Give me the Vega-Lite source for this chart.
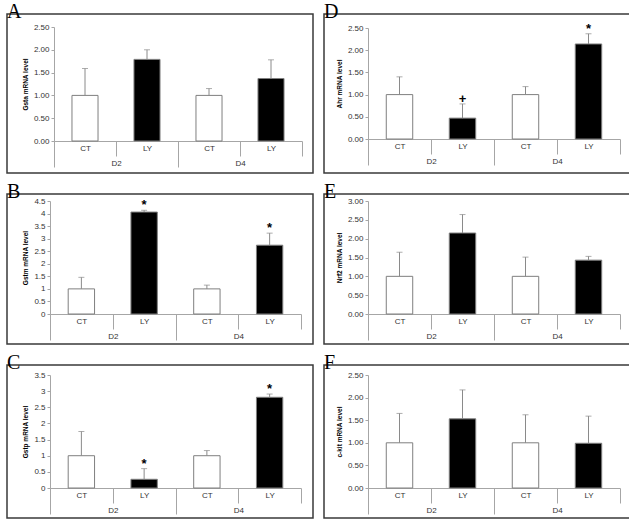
{
  "$schema": "https://vega.github.io/schema/vega-lite/v6.json",
  "padding": {"left": 6, "top": 1, "right": 0, "bottom": 0},
  "datasets": {
    "bars": [
      {"panel": "A", "day": "D2", "cond": "CT", "key": "D2 CT", "mean": 1.00, "hi": 1.59, "sig": ""},
      {"panel": "A", "day": "D2", "cond": "LY", "key": "D2 LY", "mean": 1.79, "hi": 2.00, "sig": ""},
      {"panel": "A", "day": "D4", "cond": "CT", "key": "D4 CT", "mean": 1.00, "hi": 1.15, "sig": ""},
      {"panel": "A", "day": "D4", "cond": "LY", "key": "D4 LY", "mean": 1.37, "hi": 1.78, "sig": ""},
      {"panel": "D", "day": "D2", "cond": "CT", "key": "D2 CT", "mean": 1.00, "hi": 1.40, "sig": ""},
      {"panel": "D", "day": "D2", "cond": "LY", "key": "D2 LY", "mean": 0.47, "hi": 0.79, "sig": "+"},
      {"panel": "D", "day": "D4", "cond": "CT", "key": "D4 CT", "mean": 1.00, "hi": 1.18, "sig": ""},
      {"panel": "D", "day": "D4", "cond": "LY", "key": "D4 LY", "mean": 2.14, "hi": 2.37, "sig": "*"},
      {"panel": "B", "day": "D2", "cond": "CT", "key": "D2 CT", "mean": 1.00, "hi": 1.46, "sig": ""},
      {"panel": "B", "day": "D2", "cond": "LY", "key": "D2 LY", "mean": 4.06, "hi": 4.13, "sig": "*"},
      {"panel": "B", "day": "D4", "cond": "CT", "key": "D4 CT", "mean": 1.00, "hi": 1.15, "sig": ""},
      {"panel": "B", "day": "D4", "cond": "LY", "key": "D4 LY", "mean": 2.74, "hi": 3.22, "sig": "*"},
      {"panel": "E", "day": "D2", "cond": "CT", "key": "D2 CT", "mean": 1.00, "hi": 1.64, "sig": ""},
      {"panel": "E", "day": "D2", "cond": "LY", "key": "D2 LY", "mean": 2.15, "hi": 2.64, "sig": ""},
      {"panel": "E", "day": "D4", "cond": "CT", "key": "D4 CT", "mean": 1.00, "hi": 1.51, "sig": ""},
      {"panel": "E", "day": "D4", "cond": "LY", "key": "D4 LY", "mean": 1.43, "hi": 1.53, "sig": ""},
      {"panel": "C", "day": "D2", "cond": "CT", "key": "D2 CT", "mean": 1.00, "hi": 1.75, "sig": ""},
      {"panel": "C", "day": "D2", "cond": "LY", "key": "D2 LY", "mean": 0.27, "hi": 0.60, "sig": "*"},
      {"panel": "C", "day": "D4", "cond": "CT", "key": "D4 CT", "mean": 1.00, "hi": 1.16, "sig": ""},
      {"panel": "C", "day": "D4", "cond": "LY", "key": "D4 LY", "mean": 2.81, "hi": 2.91, "sig": "*"},
      {"panel": "F", "day": "D2", "cond": "CT", "key": "D2 CT", "mean": 1.00, "hi": 1.65, "sig": ""},
      {"panel": "F", "day": "D2", "cond": "LY", "key": "D2 LY", "mean": 1.53, "hi": 2.17, "sig": ""},
      {"panel": "F", "day": "D4", "cond": "CT", "key": "D4 CT", "mean": 1.00, "hi": 1.62, "sig": ""},
      {"panel": "F", "day": "D4", "cond": "LY", "key": "D4 LY", "mean": 0.99, "hi": 1.59, "sig": ""}
    ]
  },
  "data": {"name": "bars"},
  "config": {
    "view": {"stroke": "#3a3a3a", "strokeWidth": 1.5},
    "axis": {"grid": false, "labelFont": "Liberation Sans", "labelFontSize": 8, "labelColor": "#333333", "labelOverlap": false, "domainColor": "#a6a6a6", "tickColor": "#a6a6a6", "titleFont": "Liberation Sans", "titleFontSize": 6.5, "titleFontWeight": "bold", "titleColor": "#000000"},
    "title": {"font": "Liberation Serif", "fontSize": 20, "fontWeight": "normal", "color": "#000000", "anchor": "start", "offset": -8, "frame": "group"}
  },
  "columns": 2,
  "spacing": {"row": 7, "column": 9},
  "concat": [
    {
      "width": 306, "height": 159, "title": {"text": "A"},
      "transform": [{"filter": "datum.panel == 'A'"}],
      "layer": [
        {"layer": [
          {"mark": {"type": "bar", "width": {"band": 0.42}, "stroke": "#7f7f7f", "strokeWidth": 1},
           "encoding": {
             "x": {"field": "key", "type": "nominal", "scale": {"range": [47, 295], "paddingInner": 0, "paddingOuter": 0},
                   "axis": {"title": null, "orient": "bottom", "offset": -32, "tickBand": "extent", "tickSize": 15, "labelPadding": -12, "labelAngle": 0, "labelExpr": "split(datum.value, ' ')[1]"}},
             "y": {"field": "mean", "type": "quantitative", "scale": {"domain": [0, 2.5], "range": [127, 13], "nice": false},
                   "axis": {"title": "Gsta mRNA level", "values": [0, 0.5, 1, 1.5, 2, 2.5], "format": ".2f", "offset": -47, "tickSize": 3, "labelPadding": 2, "titlePadding": 5}},
             "fill": {"field": "cond", "type": "nominal", "scale": {"domain": ["CT", "LY"], "range": ["#ffffff", "#000000"]}, "legend": null}
           }},
          {"mark": {"type": "rule", "color": "#8a8a8a"}, "encoding": {"x": {"field": "key", "type": "nominal"}, "y": {"field": "mean", "type": "quantitative", "axis": {"title": "Gsta mRNA level", "values": [0, 0.5, 1, 1.5, 2, 2.5], "format": ".2f", "offset": -47, "tickSize": 3, "labelPadding": 2, "titlePadding": 5}}, "y2": {"field": "hi"}}},
          {"mark": {"type": "tick", "color": "#8a8a8a", "size": 6, "thickness": 1, "orient": "horizontal"}, "encoding": {"x": {"field": "key", "type": "nominal"}, "y": {"field": "hi", "type": "quantitative", "axis": {"title": "Gsta mRNA level", "values": [0, 0.5, 1, 1.5, 2, 2.5], "format": ".2f", "offset": -47, "tickSize": 3, "labelPadding": 2, "titlePadding": 5}}}},
          {"mark": {"type": "text", "fontSize": 13, "fontWeight": "bold", "font": "Liberation Sans", "dy": -5}, "encoding": {"x": {"field": "key", "type": "nominal"}, "y": {"field": "hi", "type": "quantitative", "axis": {"title": "Gsta mRNA level", "values": [0, 0.5, 1, 1.5, 2, 2.5], "format": ".2f", "offset": -47, "tickSize": 3, "labelPadding": 2, "titlePadding": 5}}, "text": {"field": "sig"}}}
        ]},
        {"mark": {"type": "point", "opacity": 0},
         "encoding": {"x": {"field": "day", "type": "nominal", "scale": {"type": "band", "range": [47, 295], "paddingInner": 0, "paddingOuter": 0},
                            "axis": {"title": null, "orient": "bottom", "offset": -32, "tickSize": 26, "tickOffset": -62, "labelOffset": 62, "labelPadding": -8, "labelAngle": 0, "domain": false}}}}
      ],
      "resolve": {"scale": {"x": "independent"}}
    },
    {
      "width": 306, "height": 159, "title": {"text": "D"},
      "transform": [{"filter": "datum.panel == 'D'"}],
      "layer": [
        {"layer": [
          {"mark": {"type": "bar", "width": {"band": 0.42}, "stroke": "#7f7f7f", "strokeWidth": 1},
           "encoding": {
             "x": {"field": "key", "type": "nominal", "scale": {"range": [44, 296], "paddingInner": 0, "paddingOuter": 0},
                   "axis": {"title": null, "orient": "bottom", "offset": -34, "tickBand": "extent", "tickSize": 15, "labelPadding": -12, "labelAngle": 0, "labelExpr": "split(datum.value, ' ')[1]"}},
             "y": {"field": "mean", "type": "quantitative", "scale": {"domain": [0, 2.5], "range": [125, 14], "nice": false},
                   "axis": {"title": "Ahr mRNA level", "values": [0, 0.5, 1, 1.5, 2, 2.5], "format": ".2f", "offset": -44, "tickSize": 3, "labelPadding": 2, "titlePadding": 5}},
             "fill": {"field": "cond", "type": "nominal", "scale": {"domain": ["CT", "LY"], "range": ["#ffffff", "#000000"]}, "legend": null}
           }},
          {"mark": {"type": "rule", "color": "#8a8a8a"}, "encoding": {"x": {"field": "key", "type": "nominal"}, "y": {"field": "mean", "type": "quantitative", "axis": {"title": "Ahr mRNA level", "values": [0, 0.5, 1, 1.5, 2, 2.5], "format": ".2f", "offset": -44, "tickSize": 3, "labelPadding": 2, "titlePadding": 5}}, "y2": {"field": "hi"}}},
          {"mark": {"type": "tick", "color": "#8a8a8a", "size": 6, "thickness": 1, "orient": "horizontal"}, "encoding": {"x": {"field": "key", "type": "nominal"}, "y": {"field": "hi", "type": "quantitative", "axis": {"title": "Ahr mRNA level", "values": [0, 0.5, 1, 1.5, 2, 2.5], "format": ".2f", "offset": -44, "tickSize": 3, "labelPadding": 2, "titlePadding": 5}}}},
          {"mark": {"type": "text", "fontSize": 13, "fontWeight": "bold", "font": "Liberation Sans", "dy": -5}, "encoding": {"x": {"field": "key", "type": "nominal"}, "y": {"field": "hi", "type": "quantitative", "axis": {"title": "Ahr mRNA level", "values": [0, 0.5, 1, 1.5, 2, 2.5], "format": ".2f", "offset": -44, "tickSize": 3, "labelPadding": 2, "titlePadding": 5}}, "text": {"field": "sig"}}}
        ]},
        {"mark": {"type": "point", "opacity": 0},
         "encoding": {"x": {"field": "day", "type": "nominal", "scale": {"type": "band", "range": [44, 296], "paddingInner": 0, "paddingOuter": 0},
                            "axis": {"title": null, "orient": "bottom", "offset": -34, "tickSize": 26, "tickOffset": -63, "labelOffset": 63, "labelPadding": -8, "labelAngle": 0, "domain": false}}}}
      ],
      "resolve": {"scale": {"x": "independent"}}
    },
    {
      "width": 306, "height": 150, "title": {"text": "B"},
      "transform": [{"filter": "datum.panel == 'B'"}],
      "layer": [
        {"layer": [
          {"mark": {"type": "bar", "width": {"band": 0.42}, "stroke": "#7f7f7f", "strokeWidth": 1},
           "encoding": {
             "x": {"field": "key", "type": "nominal", "scale": {"range": [43, 294], "paddingInner": 0, "paddingOuter": 0},
                   "axis": {"title": null, "orient": "bottom", "offset": -30, "tickBand": "extent", "tickSize": 15, "labelPadding": -12, "labelAngle": 0, "labelExpr": "split(datum.value, ' ')[1]"}},
             "y": {"field": "mean", "type": "quantitative", "scale": {"domain": [0, 4.5], "range": [120, 7], "nice": false},
                   "axis": {"title": "Gstm mRNA level", "values": [0, 0.5, 1, 1.5, 2, 2.5, 3, 3.5, 4, 4.5], "format": "~g", "offset": -43, "tickSize": 3, "labelPadding": 2, "titlePadding": 5}},
             "fill": {"field": "cond", "type": "nominal", "scale": {"domain": ["CT", "LY"], "range": ["#ffffff", "#000000"]}, "legend": null}
           }},
          {"mark": {"type": "rule", "color": "#8a8a8a"}, "encoding": {"x": {"field": "key", "type": "nominal"}, "y": {"field": "mean", "type": "quantitative", "axis": {"title": "Gstm mRNA level", "values": [0, 0.5, 1, 1.5, 2, 2.5, 3, 3.5, 4, 4.5], "format": "~g", "offset": -43, "tickSize": 3, "labelPadding": 2, "titlePadding": 5}}, "y2": {"field": "hi"}}},
          {"mark": {"type": "tick", "color": "#8a8a8a", "size": 6, "thickness": 1, "orient": "horizontal"}, "encoding": {"x": {"field": "key", "type": "nominal"}, "y": {"field": "hi", "type": "quantitative", "axis": {"title": "Gstm mRNA level", "values": [0, 0.5, 1, 1.5, 2, 2.5, 3, 3.5, 4, 4.5], "format": "~g", "offset": -43, "tickSize": 3, "labelPadding": 2, "titlePadding": 5}}}},
          {"mark": {"type": "text", "fontSize": 13, "fontWeight": "bold", "font": "Liberation Sans", "dy": -5}, "encoding": {"x": {"field": "key", "type": "nominal"}, "y": {"field": "hi", "type": "quantitative", "axis": {"title": "Gstm mRNA level", "values": [0, 0.5, 1, 1.5, 2, 2.5, 3, 3.5, 4, 4.5], "format": "~g", "offset": -43, "tickSize": 3, "labelPadding": 2, "titlePadding": 5}}, "text": {"field": "sig"}}}
        ]},
        {"mark": {"type": "point", "opacity": 0},
         "encoding": {"x": {"field": "day", "type": "nominal", "scale": {"type": "band", "range": [43, 294], "paddingInner": 0, "paddingOuter": 0},
                            "axis": {"title": null, "orient": "bottom", "offset": -30, "tickSize": 26, "tickOffset": -62.75, "labelOffset": 62.75, "labelPadding": -8, "labelAngle": 0, "domain": false}}}}
      ],
      "resolve": {"scale": {"x": "independent"}}
    },
    {
      "width": 306, "height": 150, "title": {"text": "E"},
      "transform": [{"filter": "datum.panel == 'E'"}],
      "layer": [
        {"layer": [
          {"mark": {"type": "bar", "width": {"band": 0.42}, "stroke": "#7f7f7f", "strokeWidth": 1},
           "encoding": {
             "x": {"field": "key", "type": "nominal", "scale": {"range": [44, 296], "paddingInner": 0, "paddingOuter": 0},
                   "axis": {"title": null, "orient": "bottom", "offset": -30, "tickBand": "extent", "tickSize": 15, "labelPadding": -12, "labelAngle": 0, "labelExpr": "split(datum.value, ' ')[1]"}},
             "y": {"field": "mean", "type": "quantitative", "scale": {"domain": [0, 3], "range": [120, 7], "nice": false},
                   "axis": {"title": "Nrf2 mRNA level", "values": [0, 0.5, 1, 1.5, 2, 2.5, 3], "format": ".2f", "offset": -44, "tickSize": 3, "labelPadding": 2, "titlePadding": 5}},
             "fill": {"field": "cond", "type": "nominal", "scale": {"domain": ["CT", "LY"], "range": ["#ffffff", "#000000"]}, "legend": null}
           }},
          {"mark": {"type": "rule", "color": "#8a8a8a"}, "encoding": {"x": {"field": "key", "type": "nominal"}, "y": {"field": "mean", "type": "quantitative", "axis": {"title": "Nrf2 mRNA level", "values": [0, 0.5, 1, 1.5, 2, 2.5, 3], "format": ".2f", "offset": -44, "tickSize": 3, "labelPadding": 2, "titlePadding": 5}}, "y2": {"field": "hi"}}},
          {"mark": {"type": "tick", "color": "#8a8a8a", "size": 6, "thickness": 1, "orient": "horizontal"}, "encoding": {"x": {"field": "key", "type": "nominal"}, "y": {"field": "hi", "type": "quantitative", "axis": {"title": "Nrf2 mRNA level", "values": [0, 0.5, 1, 1.5, 2, 2.5, 3], "format": ".2f", "offset": -44, "tickSize": 3, "labelPadding": 2, "titlePadding": 5}}}},
          {"mark": {"type": "text", "fontSize": 13, "fontWeight": "bold", "font": "Liberation Sans", "dy": -5}, "encoding": {"x": {"field": "key", "type": "nominal"}, "y": {"field": "hi", "type": "quantitative", "axis": {"title": "Nrf2 mRNA level", "values": [0, 0.5, 1, 1.5, 2, 2.5, 3], "format": ".2f", "offset": -44, "tickSize": 3, "labelPadding": 2, "titlePadding": 5}}, "text": {"field": "sig"}}}
        ]},
        {"mark": {"type": "point", "opacity": 0},
         "encoding": {"x": {"field": "day", "type": "nominal", "scale": {"type": "band", "range": [44, 296], "paddingInner": 0, "paddingOuter": 0},
                            "axis": {"title": null, "orient": "bottom", "offset": -30, "tickSize": 26, "tickOffset": -63, "labelOffset": 63, "labelPadding": -8, "labelAngle": 0, "domain": false}}}}
      ],
      "resolve": {"scale": {"x": "independent"}}
    },
    {
      "width": 306, "height": 153, "title": {"text": "C"},
      "transform": [{"filter": "datum.panel == 'C'"}],
      "layer": [
        {"layer": [
          {"mark": {"type": "bar", "width": {"band": 0.42}, "stroke": "#7f7f7f", "strokeWidth": 1},
           "encoding": {
             "x": {"field": "key", "type": "nominal", "scale": {"range": [43, 294], "paddingInner": 0, "paddingOuter": 0},
                   "axis": {"title": null, "orient": "bottom", "offset": -30, "tickBand": "extent", "tickSize": 15, "labelPadding": -12, "labelAngle": 0, "labelExpr": "split(datum.value, ' ')[1]"}},
             "y": {"field": "mean", "type": "quantitative", "scale": {"domain": [0, 3.5], "range": [123, 10], "nice": false},
                   "axis": {"title": "Gstp mRNA level", "values": [0, 0.5, 1, 1.5, 2, 2.5, 3, 3.5], "format": "~g", "offset": -43, "tickSize": 3, "labelPadding": 2, "titlePadding": 5}},
             "fill": {"field": "cond", "type": "nominal", "scale": {"domain": ["CT", "LY"], "range": ["#ffffff", "#000000"]}, "legend": null}
           }},
          {"mark": {"type": "rule", "color": "#8a8a8a"}, "encoding": {"x": {"field": "key", "type": "nominal"}, "y": {"field": "mean", "type": "quantitative", "axis": {"title": "Gstp mRNA level", "values": [0, 0.5, 1, 1.5, 2, 2.5, 3, 3.5], "format": "~g", "offset": -43, "tickSize": 3, "labelPadding": 2, "titlePadding": 5}}, "y2": {"field": "hi"}}},
          {"mark": {"type": "tick", "color": "#8a8a8a", "size": 6, "thickness": 1, "orient": "horizontal"}, "encoding": {"x": {"field": "key", "type": "nominal"}, "y": {"field": "hi", "type": "quantitative", "axis": {"title": "Gstp mRNA level", "values": [0, 0.5, 1, 1.5, 2, 2.5, 3, 3.5], "format": "~g", "offset": -43, "tickSize": 3, "labelPadding": 2, "titlePadding": 5}}}},
          {"mark": {"type": "text", "fontSize": 13, "fontWeight": "bold", "font": "Liberation Sans", "dy": -5}, "encoding": {"x": {"field": "key", "type": "nominal"}, "y": {"field": "hi", "type": "quantitative", "axis": {"title": "Gstp mRNA level", "values": [0, 0.5, 1, 1.5, 2, 2.5, 3, 3.5], "format": "~g", "offset": -43, "tickSize": 3, "labelPadding": 2, "titlePadding": 5}}, "text": {"field": "sig"}}}
        ]},
        {"mark": {"type": "point", "opacity": 0},
         "encoding": {"x": {"field": "day", "type": "nominal", "scale": {"type": "band", "range": [43, 294], "paddingInner": 0, "paddingOuter": 0},
                            "axis": {"title": null, "orient": "bottom", "offset": -30, "tickSize": 26, "tickOffset": -62.75, "labelOffset": 62.75, "labelPadding": -8, "labelAngle": 0, "domain": false}}}}
      ],
      "resolve": {"scale": {"x": "independent"}}
    },
    {
      "width": 306, "height": 153, "title": {"text": "F"},
      "transform": [{"filter": "datum.panel == 'F'"}],
      "layer": [
        {"layer": [
          {"mark": {"type": "bar", "width": {"band": 0.42}, "stroke": "#7f7f7f", "strokeWidth": 1},
           "encoding": {
             "x": {"field": "key", "type": "nominal", "scale": {"range": [44, 296], "paddingInner": 0, "paddingOuter": 0},
                   "axis": {"title": null, "orient": "bottom", "offset": -30, "tickBand": "extent", "tickSize": 15, "labelPadding": -12, "labelAngle": 0, "labelExpr": "split(datum.value, ' ')[1]"}},
             "y": {"field": "mean", "type": "quantitative", "scale": {"domain": [0, 2.5], "range": [123, 10], "nice": false},
                   "axis": {"title": "c-kit mRNA level", "values": [0, 0.5, 1, 1.5, 2, 2.5], "format": ".2f", "offset": -44, "tickSize": 3, "labelPadding": 2, "titlePadding": 5}},
             "fill": {"field": "cond", "type": "nominal", "scale": {"domain": ["CT", "LY"], "range": ["#ffffff", "#000000"]}, "legend": null}
           }},
          {"mark": {"type": "rule", "color": "#8a8a8a"}, "encoding": {"x": {"field": "key", "type": "nominal"}, "y": {"field": "mean", "type": "quantitative", "axis": {"title": "c-kit mRNA level", "values": [0, 0.5, 1, 1.5, 2, 2.5], "format": ".2f", "offset": -44, "tickSize": 3, "labelPadding": 2, "titlePadding": 5}}, "y2": {"field": "hi"}}},
          {"mark": {"type": "tick", "color": "#8a8a8a", "size": 6, "thickness": 1, "orient": "horizontal"}, "encoding": {"x": {"field": "key", "type": "nominal"}, "y": {"field": "hi", "type": "quantitative", "axis": {"title": "c-kit mRNA level", "values": [0, 0.5, 1, 1.5, 2, 2.5], "format": ".2f", "offset": -44, "tickSize": 3, "labelPadding": 2, "titlePadding": 5}}}},
          {"mark": {"type": "text", "fontSize": 13, "fontWeight": "bold", "font": "Liberation Sans", "dy": -5}, "encoding": {"x": {"field": "key", "type": "nominal"}, "y": {"field": "hi", "type": "quantitative", "axis": {"title": "c-kit mRNA level", "values": [0, 0.5, 1, 1.5, 2, 2.5], "format": ".2f", "offset": -44, "tickSize": 3, "labelPadding": 2, "titlePadding": 5}}, "text": {"field": "sig"}}}
        ]},
        {"mark": {"type": "point", "opacity": 0},
         "encoding": {"x": {"field": "day", "type": "nominal", "scale": {"type": "band", "range": [44, 296], "paddingInner": 0, "paddingOuter": 0},
                            "axis": {"title": null, "orient": "bottom", "offset": -30, "tickSize": 26, "tickOffset": -63, "labelOffset": 63, "labelPadding": -8, "labelAngle": 0, "domain": false}}}}
      ],
      "resolve": {"scale": {"x": "independent"}}
    }
  ]
}
